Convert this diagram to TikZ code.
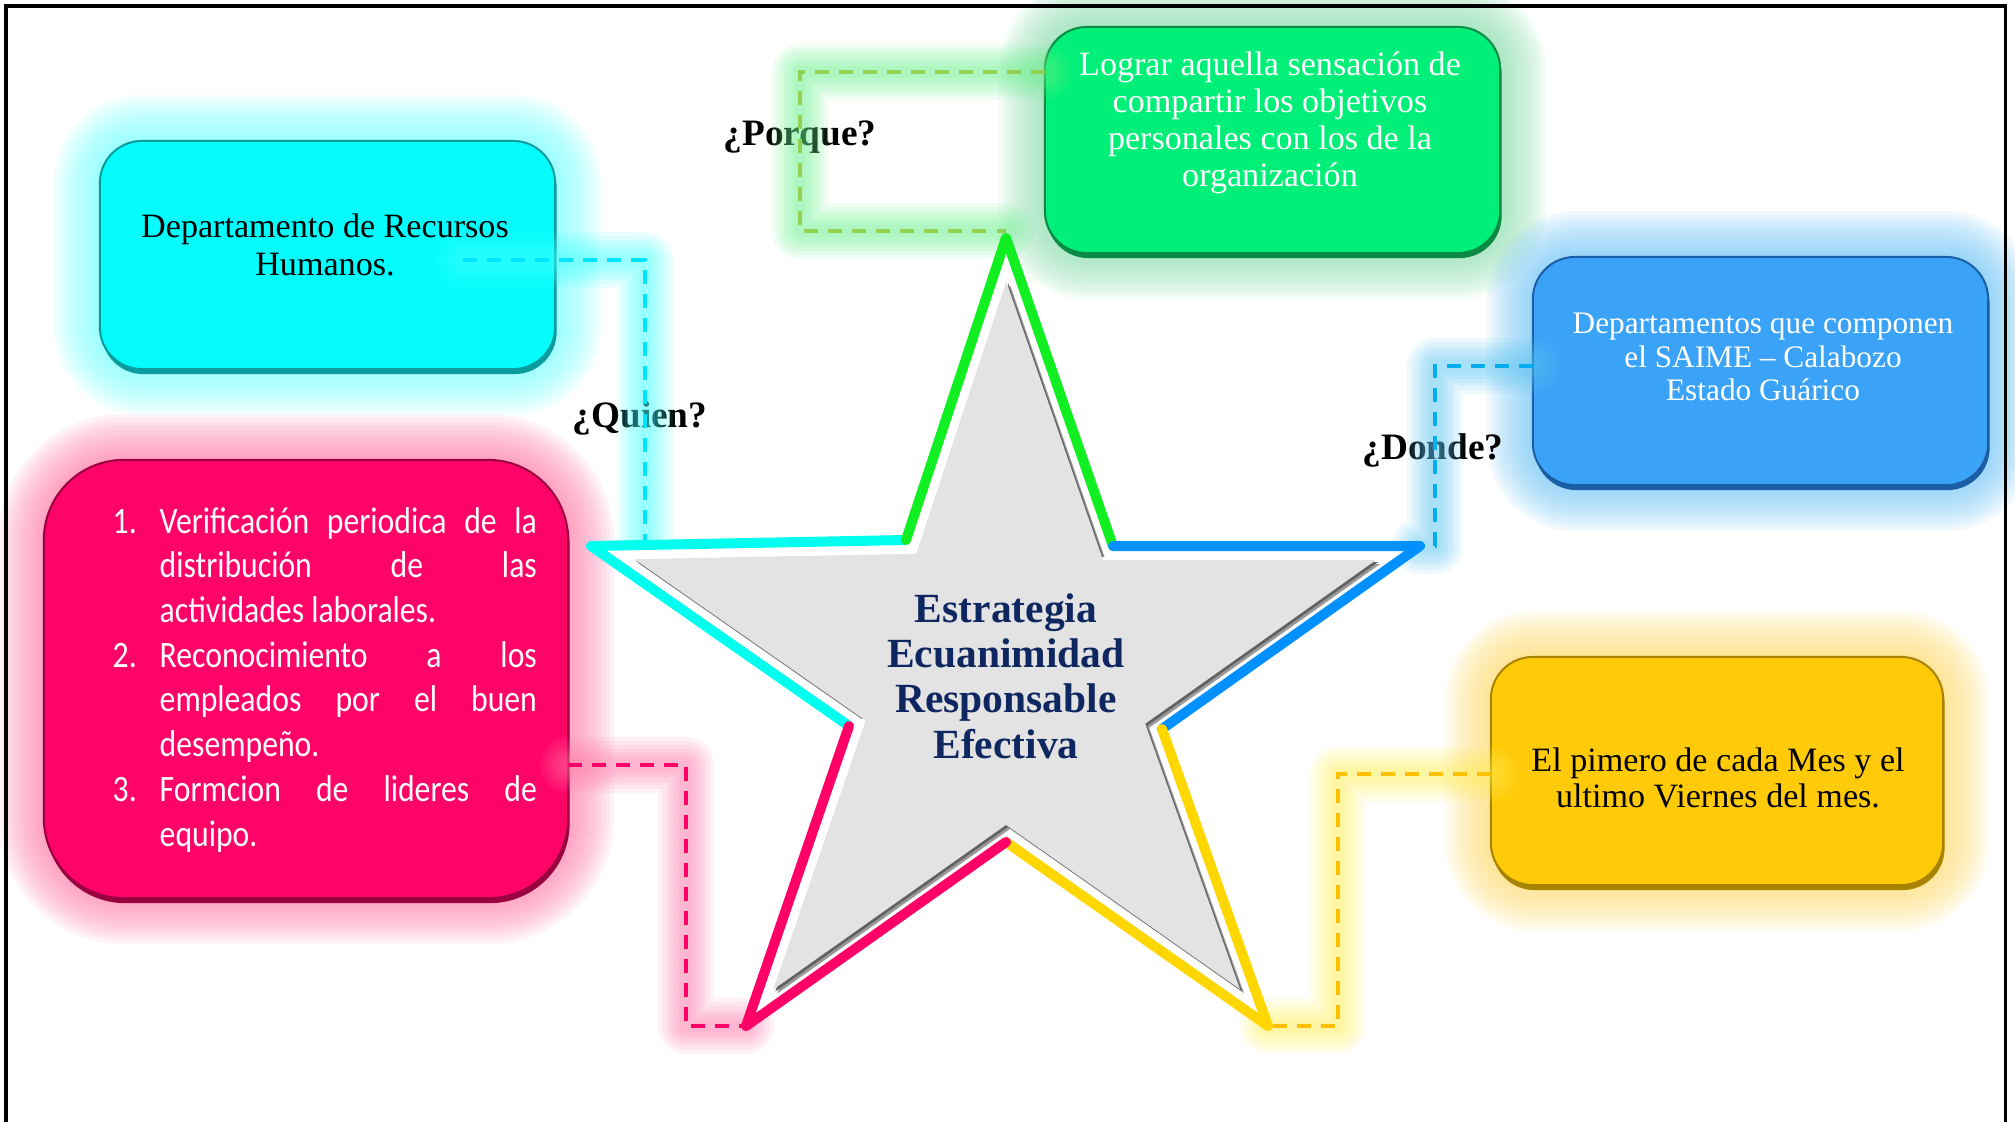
\documentclass[tikz,border=0pt]{standalone}
\usepackage{fontspec}
\setmainfont{Liberation Serif}
\newfontfamily\listfont[FakeStretch=0.85]{Carlito}
\pgfdeclarelayer{bg}
\pgfsetlayers{bg,main}
\definecolor{cyanbox}{HTML}{04FCFC}
\definecolor{cyandark}{HTML}{0A9C9C}
\definecolor{cyanglow}{HTML}{70FFFF}
\definecolor{greenbox}{HTML}{00EF78}
\definecolor{greendark}{HTML}{0A8A44}
\definecolor{greenglow}{HTML}{86DBAA}
\definecolor{bluebox}{HTML}{3BA3F7}
\definecolor{bluedark}{HTML}{1C5EA6}
\definecolor{blueglow}{HTML}{6CC2F5}
\definecolor{yellowbox}{HTML}{FFCA08}
\definecolor{yellowdark}{HTML}{A88300}
\definecolor{yellowglow}{HTML}{FFD968}
\definecolor{pinkbox}{HTML}{FF0468}
\definecolor{pinkdark}{HTML}{9A0040}
\definecolor{pinkglow}{HTML}{FF78A6}
\definecolor{cyandash}{HTML}{00E5FF}
\definecolor{greendash}{HTML}{92D050}
\definecolor{bluedash}{HTML}{00AEEF}
\definecolor{yellowdash}{HTML}{FFC000}
\definecolor{pinkdash}{HTML}{FF0066}
\definecolor{cyanlg}{HTML}{40FFFF}
\definecolor{greenlg}{HTML}{66F08A}
\definecolor{bluelg}{HTML}{5BC4F2}
\definecolor{yellowlg}{HTML}{FFEE55}
\definecolor{pinklg}{HTML}{FF77A8}
\definecolor{cyanE}{HTML}{00FFEE}
\definecolor{greenE}{HTML}{11EE22}
\definecolor{blueE}{HTML}{0090FF}
\definecolor{yellowE}{HTML}{FFD700}
\definecolor{pinkE}{HTML}{FF0066}
\definecolor{stargray}{HTML}{E3E3E3}
\definecolor{starnavy}{HTML}{0F2760}
\newcommand\boxglow[3]{%
  \foreach \g in {0.46,0.42,0.38,0.34,0.30,0.26,0.22,0.18,0.14,0.10,0.06,0.03}{%
    \pgfmathsetmacro\rr{#3+\g}%
    \fill[#2, opacity=0.09, rounded corners=\rr cm]
      ([xshift=-\g cm, yshift=-\g cm]#1.south west) rectangle ([xshift=\g cm, yshift=\g cm]#1.north east);
  }}
\newcommand\boxshadow[3]{%
  \fill[#2, rounded corners=#3 cm]
    ([xshift=0.015cm, yshift=-0.05cm]#1.south west) rectangle ([xshift=0.015cm, yshift=-0.05cm]#1.north east);}
\begin{document}
\begin{tikzpicture}[x=0.01cm, y=-0.01cm,
  box/.style={rounded corners=0.42cm, inner sep=0, outer sep=0, line width=0.02cm},
  boxtext/.style={align=center, inner sep=0},
  qlabel/.style={font=\fontsize{10.6pt}{12pt}\selectfont\bfseries, inner sep=0, anchor=base},
  conn/.style={draw=#1, dash pattern=on 0.14cm off 0.1cm, line width=0.035cm},
  cglow/.style={draw=#1, line join=round, line cap=round, draw opacity=0.1},
  staredge/.style={draw=#1, line width=0.1cm, line join=round, line cap=round},
  startext/.style={align=center, inner sep=0, text=starnavy,
    font=\fontsize{11.8pt}{12.9pt}\selectfont\bfseries}]
\useasboundingbox (0,0) rectangle (2015,1121);
% frame
\draw[line width=0.03cm] (6,1140) -- (6,6) -- (2005,6) -- (2005,1140);

% boxes
\node[box, fill=cyanbox, draw=cyandark, minimum width=4.55cm, minimum height=2.28cm] (rrhh) at (327.5,255) {};
\node[box, fill=greenbox, draw=greendark, minimum width=4.55cm, minimum height=2.26cm] (porque) at (1272.5,140) {};
\node[box, fill=bluebox, draw=bluedark, minimum width=4.55cm, minimum height=2.28cm] (donde) at (1760.5,371) {};
\node[box, fill=yellowbox, draw=yellowdark, minimum width=4.52cm, minimum height=2.28cm] (cuando) at (1717,771) {};
\node[box, rounded corners=0.8cm, fill=pinkbox, draw=pinkdark, minimum width=5.24cm, minimum height=4.38cm] (como) at (306,679) {};

\begin{pgfonlayer}{bg}
\boxglow{rrhh}{cyanglow}{0.42}
\boxglow{porque}{greenglow}{0.42}
\boxglow{donde}{blueglow}{0.42}
\boxglow{cuando}{yellowglow}{0.42}
\boxglow{como}{pinkglow}{0.8}
\boxshadow{rrhh}{cyandark}{0.42}
\boxshadow{porque}{greendark}{0.42}
\boxshadow{donde}{bluedark}{0.42}
\boxshadow{cuando}{yellowdark}{0.42}
\boxshadow{como}{pinkdark}{0.8}
\end{pgfonlayer}

% question labels
\node[qlabel] (qporque) at (800,145) {¿Porque?};
\node[qlabel] (qquien) at (640,427) {¿Quien?};
\node[qlabel] (qdonde) at (1433,459) {¿Donde?};

% star points
\coordinate (sT) at (1006,238);
\coordinate (sIUR) at (1113,546);
\coordinate (sR) at (1420,546);
\coordinate (sILR) at (1162,729);
\coordinate (sBR) at (1268,1026);
\coordinate (sIB) at (1006,842);
\coordinate (sBL) at (746,1026);
\coordinate (sILL) at (849,726);
\coordinate (sL) at (591,546);
\coordinate (sIUL) at (906,540);

% connector bends
\coordinate (cyS) at (463,260);
\coordinate (cyB) at (645,541);
\coordinate (grB) at (800,231);
\coordinate (blB) at (1435,546);
\coordinate (ylB) at (1338,1026);
\coordinate (pkB) at (686,1026);

% connector glows
\foreach \w in {0.56,0.48,0.40,0.33,0.26,0.19,0.12}{
  \draw[cglow=cyanlg, line width=\w cm] (cyS) -| (cyB);
  \draw[cglow=greenlg, line width=\w cm] (porque.west |- 0,72) -| (grB) -- (grB -| sT);
  \draw[cglow=bluelg, line width=\w cm] (donde.west |- 0,366) -| (blB) -- (sR);
  \draw[cglow=yellowlg, line width=\w cm] (cuando.west |- 0,774) -| (ylB) -- (sBR);
  \draw[cglow=pinklg, line width=\w cm] (como.east |- 0,765) -| (pkB) -- (sBL);
}

% connectors
\draw[conn=cyandash] (cyS) -| (cyB);
\draw[conn=greendash] (porque.west |- 0,72) -| (grB) -- (grB -| sT);
\draw[conn=bluedash] (donde.west |- 0,366) -| (blB) -- (sR);
\draw[conn=yellowdash] (cuando.west |- 0,774) -| (ylB) -- (sBR);
\draw[conn=pinkdash] (como.east |- 0,765) -| (pkB) -- (sBL);

% star
\fill[white] (sT) -- (sIUR) -- (sR) -- (sILR) -- (sBR) -- (sIB) -- (sBL) -- (sILL) -- (sL) -- (sIUL) -- cycle;
\foreach \s/\c in {4/black!40, 2/black!62, -3/white, 0/stargray}{
  \fill[\c, shift={(\s,\s)}] (1006.3,281.6) -- (1103.0,560) -- (1376.1,560) -- (1145.2,723.7) -- (1240.0,989.2)
    -- (1006.0,824.9) -- (773.3,989.5) -- (865.7,720.6) -- (634.4,559.2) -- (916.2,553.8) -- cycle;
}
\draw[staredge=cyanE] (sILL) -- (sL) -- (sIUL);
\draw[staredge=greenE] (sIUL) -- (sT) -- (sIUR);
\draw[staredge=blueE] (sIUR) -- (sR) -- (sILR);
\draw[staredge=yellowE] (sILR) -- (sBR) -- (sIB);
\draw[staredge=pinkE] (sIB) -- (sBL) -- (sILL);

% texts
\node[boxtext, font=\fontsize{9.7pt}{10.8pt}\selectfont] (rrhhT) at (325,245) {Departamento de Recursos\\Humanos.};
\node[boxtext, text=white, font=\fontsize{9.7pt}{10.5pt}\selectfont] (porqueT) at (1270,123)
  {Lograr aquella sensación de\\compartir los objetivos\\personales con los de la\\organización};
\node[boxtext, text=white, font=\fontsize{8.9pt}{9.5pt}\selectfont] (dondeT) at (1763,357)
  {Departamentos que componen\\el SAIME – Calabozo\\Estado Guárico};
\node[boxtext, font=\fontsize{9.7pt}{10.2pt}\selectfont] (cuandoT) at (1718,778)
  {El pimero de cada Mes y el\\ultimo Viernes del mes.};
\node[startext] (centro) at (1006,676) {Estrategia\\Ecuanimidad\\Responsable\\Efectiva};
\node[inner sep=0, anchor=base west, text=white] (comoT) at (112,533) {\parbox[t]{4.24cm}{%
  \listfont\fontsize{10.6pt}{12.72pt}\selectfont\parindent=0pt\parskip=0pt
  \hangindent=0.47cm\hangafter=1\noindent\makebox[0.47cm][l]{1.}Verificación periodica de la\linebreak distribución de las\linebreak actividades laborales.\par
  \hangindent=0.47cm\hangafter=1\noindent\makebox[0.47cm][l]{2.}Reconocimiento a los\linebreak empleados por el buen\linebreak desempeño.\par
  \hangindent=0.47cm\hangafter=1\noindent\makebox[0.47cm][l]{3.}Formcion de lideres de\linebreak equipo.\par}};
\end{tikzpicture}
\end{document}
